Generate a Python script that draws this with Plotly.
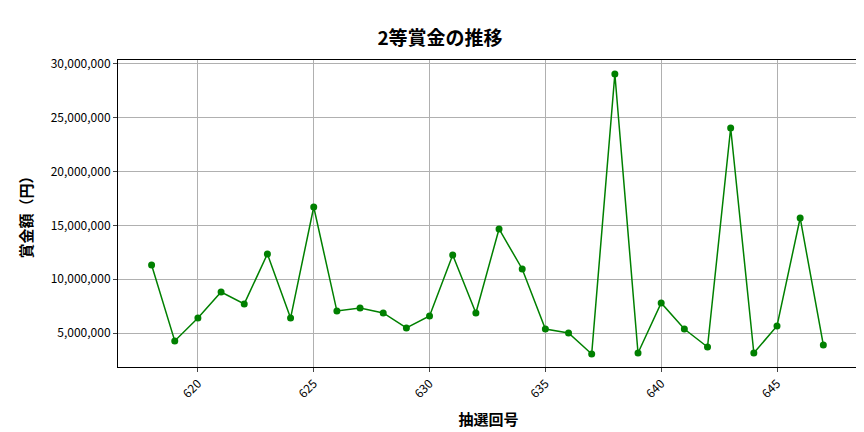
import plotly.graph_objects as go

draws = list(range(618, 648))
prize = [11320000, 4260000, 6390000, 8810000, 7700000, 12340000, 6390000, 16710000,
         7040000, 7320000, 6860000, 5470000, 6580000, 12250000, 6860000, 14670000,
         10950000, 5370000, 5000000, 3050000, 29070000, 3140000, 7790000, 5370000,
         3700000, 24050000, 3140000, 5650000, 15690000, 3890000]
xticks = [620, 625, 630, 635, 640, 645]
yticks = [5000000, 10000000, 15000000, 20000000, 25000000, 30000000]

F = "Noto Sans CJK JP"
fig = go.Figure(go.Scatter(x=draws, y=prize, mode="lines+markers",
                           line=dict(color="green", width=1.5),
                           marker=dict(color="green", size=7)))
fig.update_layout(
    width=864, height=432, plot_bgcolor="white", paper_bgcolor="white",
    margin=dict(l=110, r=13, t=52, b=73, autoexpand=False),
    font=dict(family=F, size=12, color="black"),
    title=dict(text="<b>2等賞金の推移</b>", x=0.5, xanchor="center", y=0.945,
               font=dict(size=19, family=F)),
    showlegend=False,
)
ax = dict(showline=True, linecolor="black", mirror=True, showgrid=True,
          gridcolor="#b0b0b0", ticks="outside", ticklen=4, zeroline=False,
          automargin=False)
fig.update_xaxes(**ax, range=[616.55, 648.54], tickvals=xticks, tickangle=-45,
                 title=dict(text="<b>抽選回号</b>", font=dict(size=15), standoff=14))
fig.update_yaxes(**ax, range=[1840000, 30370000], tickvals=yticks, tickformat=",d",
                 title=dict(text="<b>賞金額（円）</b>", font=dict(size=15), standoff=14))
fig.write_html("out.html")
